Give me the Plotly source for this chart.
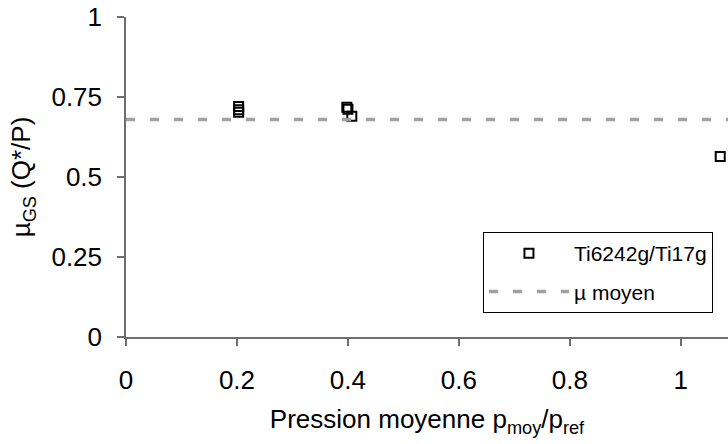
import plotly.graph_objects as go

# Data
pressure = [0.203, 0.203, 0.203, 0.398, 0.400, 0.407, 1.071]
mu_gs = [0.720, 0.710, 0.702, 0.718, 0.712, 0.690, 0.564]
mean_x = [0.0, 1.2]
mean_y = [0.68, 0.68]

x_ticks = [0, 0.2, 0.4, 0.6, 0.8, 1.0]
x_tick_labels = ["0", "0.2", "0.4", "0.6", "0.8", "1"]
y_ticks = [0, 0.25, 0.5, 0.75, 1.0]
y_tick_labels = ["0", "0.25", "0.5", "0.75", "1"]

FONT = "Liberation Sans, Arial, sans-serif"
AXIS_COLOR = "#6e6e6e"

fig = go.Figure()
fig.add_trace(go.Scatter(
    x=pressure, y=mu_gs, mode="markers", name="Ti6242g/Ti17g",
    legendgroup="a",
    marker=dict(symbol="square-open", size=9, color="black", line=dict(width=2, color="black")),
    cliponaxis=False,
))
fig.add_trace(go.Scatter(
    x=mean_x, y=mean_y, mode="lines", name="µ moyen",
    legendgroup="b",
    line=dict(color="#a0a0a0", width=3.5, dash="9px,15px"),
))

fig.update_layout(
    width=728, height=444,
    margin=dict(l=126, r=0, t=17, b=107, autoexpand=False),
    paper_bgcolor="white", plot_bgcolor="white",
    font=dict(family=FONT, color="black", size=26),
    showlegend=True,
    legend=dict(
        x=0.975, xanchor="right", y=0.075, yanchor="bottom",
        bgcolor="white", bordercolor="black", borderwidth=1,
        font=dict(size=21, family=FONT),
        itemwidth=80, tracegroupgap=8, traceorder="grouped",
    ),
    xaxis=dict(
        range=[0, 1.085], tickvals=x_ticks, ticktext=x_tick_labels,
        showline=True, linecolor=AXIS_COLOR, linewidth=1.5,
        ticks="outside", ticklen=7, tickwidth=1.5, tickcolor=AXIS_COLOR,
        showgrid=False, zeroline=False, ticklabelstandoff=12,
        tickfont=dict(size=26), automargin=False,
        title=dict(text="Pression moyenne p<sub>moy</sub>/p<sub>ref</sub>", font=dict(size=26), standoff=16),
    ),
    yaxis=dict(
        range=[0, 1], tickvals=y_ticks, ticktext=y_tick_labels,
        showline=True, linecolor=AXIS_COLOR, linewidth=1.5,
        ticks="outside", ticklen=7, tickwidth=1.5, tickcolor=AXIS_COLOR,
        showgrid=False, zeroline=False, ticklabelstandoff=10,
        tickfont=dict(size=26), automargin=False,
        title=dict(text="µ<sub>GS</sub> (Q*/P)", font=dict(size=26), standoff=13),
    ),
)

fig.write_html(
    "out.html",
    config={"displayModeBar": False},
    post_script="document.body.style.margin='0';document.body.style.padding='0';document.body.style.overflow='hidden';",
)
